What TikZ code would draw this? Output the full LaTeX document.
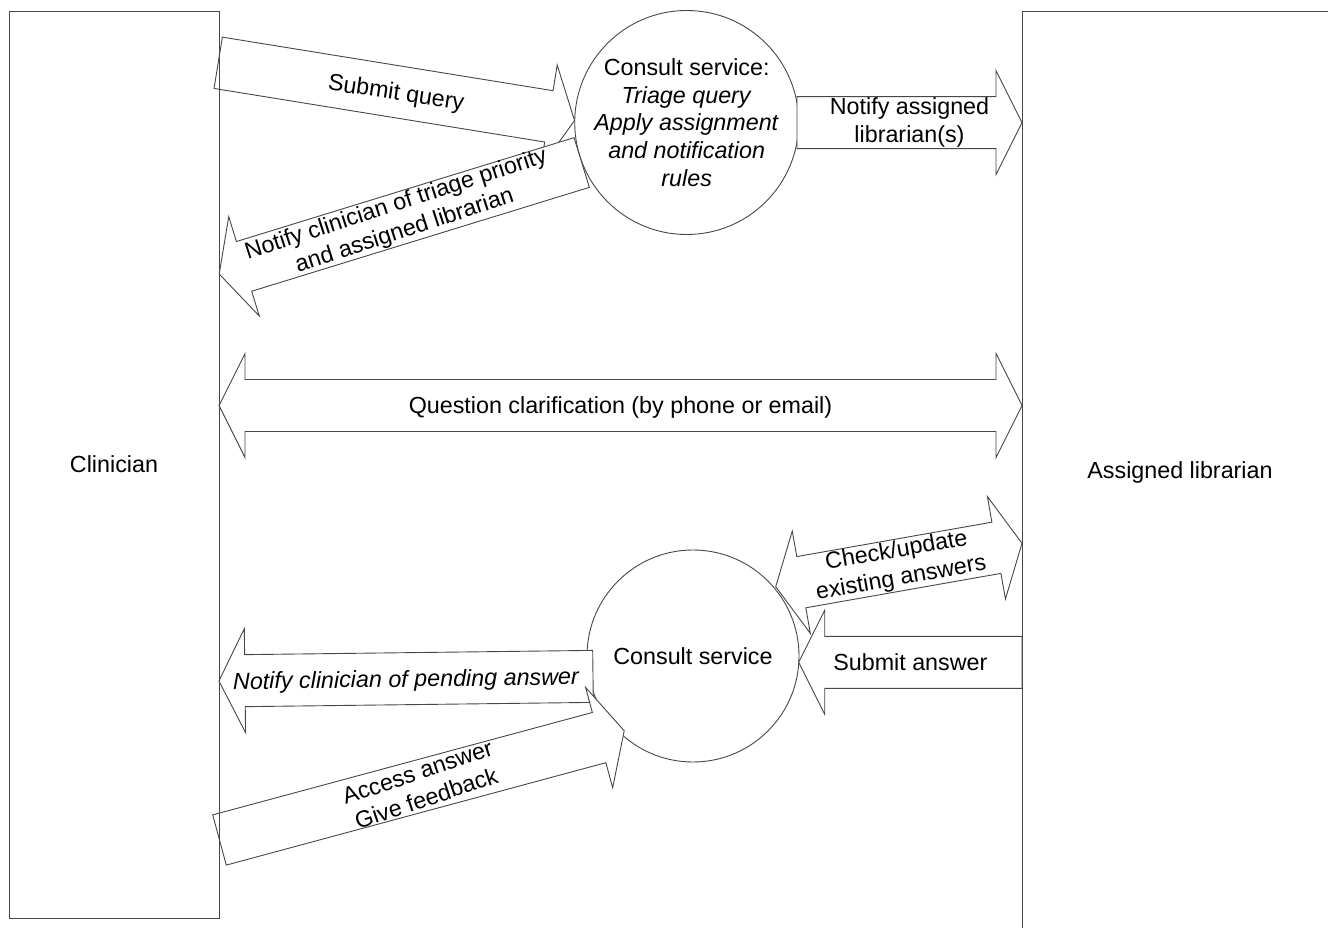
\documentclass[tikz,border=0pt]{standalone}
\usepackage{fontspec}
\setmainfont{Liberation Sans}
\newcommand{\SArrow}[4]{%
  \begin{scope}[shift={#1},rotate=#2]
    \draw[arr] (0,-26) -- ({#3-26},-26) -- ({#3-26},-52) -- (#3,0) -- ({#3-26},52) -- ({#3-26},26) -- (0,26) -- cycle;
    \coordinate (#4) at ({#3/2},0);
  \end{scope}}
\newcommand{\DArrow}[4]{%
  \begin{scope}[shift={#1},rotate=#2]
    \draw[arr] (0,0) -- (26,-52) -- (26,-26) -- ({#3-26},-26) -- ({#3-26},-52) -- (#3,0) -- ({#3-26},52) -- ({#3-26},26) -- (26,26) -- (26,52) -- cycle;
    \coordinate (#4) at ({#3/2},0);
  \end{scope}}
\begin{document}
\begin{tikzpicture}[x=1pt,y=-1pt,
  ln/.style={draw=black!72,line width=0.9pt},
  arr/.style={ln,fill=white,line join=miter},
  txt/.style={font=\fontsize{23.3}{27.6}\selectfont,align=center,inner sep=0pt},
  txtone/.style={txt,text height=16.7pt,text depth=0pt},
  proc/.style={circle,ln,fill=white,inner sep=0pt}]
\useasboundingbox (0,0) rectangle (1328,928);
% processes
\node[proc,minimum size=224] (cs1) at (686.7,122.5) {};
\node[txt] (cs1t) at (cs1) {Consult service:\\\textit{Triage query}\\\textit{Apply assignment}\\\textit{and notification}\\\textit{rules}};
\node[proc,minimum size=212] (cs2) at (693,656) {};
\node[txtone] (cs2t) at (cs2) {Consult service};
% block arrows
\SArrow{(218.2,62.8)}{-9.2}{361}{sq}
\SArrow{(581.7,162.5)}{-162.9}{379.3}{nt}
\SArrow{(797,122.7)}{0}{225}{na}
\DArrow{(219,405.5)}{0}{803}{qc}
\DArrow{(775.7,586.7)}{10}{250.1}{cu}
\SArrow{(1022,662.3)}{180}{223.3}{sa}
\SArrow{(593,676.4)}{-179.3}{374.1}{np}
\SArrow{(219.5,840)}{15.1}{419.2}{aa}
% labels
\node[txtone,rotate=-8.5] (l1) at (sq) {Submit query};
\node[txt,rotate=18] (l2) at (nt) {Notify clinician of triage priority\\and assigned librarian};
\node[txt] (l3) at (na) {Notify assigned\\librarian(s)};
\node[txtone] (l4) at (qc) {Question clarification (by phone or email)};
\node[txt,rotate=10] (l5) at (cu) {Check/update\\existing answers};
\node[txtone] (l6) at (sa) {Submit answer};
\node[txtone,rotate=0.8] (l7) at (np) {\itshape Notify clinician of pending answer};
\node[txt,rotate=18.5] (l8) at (aa) {Access answer\\Give feedback};
% actors
\node[ln,minimum width=210,minimum height=907,inner sep=0pt,txtone] (clin) at (114,464.5) {Clinician};
\coordinate (libtop) at (1022,11);
\coordinate (libbot) at (1022,928);
\coordinate (libright) at (1328,11);
\node[txtone] (lib) at (1180,470) {Assigned librarian};
\draw[ln] (libbot) -- (libtop) -- (libright);
\end{tikzpicture}
\end{document}
